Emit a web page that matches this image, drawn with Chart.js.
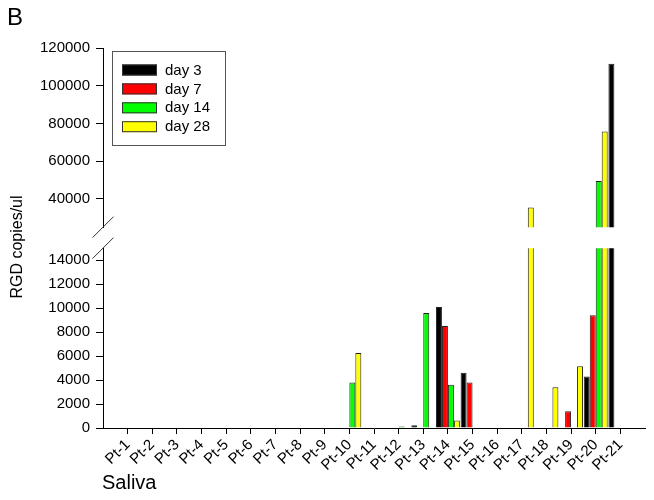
<!DOCTYPE html>
<html>
<head>
<meta charset="utf-8">
<script src="https://cdn.jsdelivr.net/npm/chart.js@4.4.1/dist/chart.umd.min.js"></script>
<style>
html,body{margin:0;padding:0;background:#fff;}
#wrap{width:654px;height:500px;}
</style>
</head>
<body>
<div id="wrap"><canvas id="c" width="654" height="500"></canvas></div>
<script>
// ---- data ----
const categories = ['Pt-1','Pt-2','Pt-3','Pt-4','Pt-5','Pt-6','Pt-7','Pt-8','Pt-9','Pt-10','Pt-11',
                    'Pt-12','Pt-13','Pt-14','Pt-15','Pt-16','Pt-17','Pt-18','Pt-19','Pt-20','Pt-21'];
const seriesNames = ['day 3','day 7','day 14','day 28'];
const seriesColors = ['#000000','#ff0000','#00ff00','#ffff00'];
const day3  = [0,0,0,0,0,0,0,0,0,0,0,0,220,10100,4600,0,0,0,0,4300,111700];
const day7  = [0,0,0,0,0,0,0,0,0,0,0,0,0,8500,3800,0,0,0,1400,9400,0];
const day14 = [0,0,0,0,0,0,0,0,0,3800,0,120,9600,3600,0,0,0,0,0,49500,0];
const day28 = [0,0,0,0,0,0,0,0,0,6250,0,0,0,620,0,0,35400,3400,5150,75700,0];
const lowerTicks = [0,2000,4000,6000,8000,10000,12000,14000];
const upperTicks = [40000,60000,80000,100000,120000];
const lowerRange = [0,15000];
const upperRange = [25000,120000];

const allSeries = [day3, day7, day14, day28];
const FONT = "'Liberation Sans', Arial, Helvetica, sans-serif";
Chart.defaults.font.family = FONT;
Chart.defaults.font.size = 15;
Chart.defaults.color = '#000';

const datasets = [];
['yLow','yHigh'].forEach(axisId => {
  allSeries.forEach((vals, s) => {
    datasets.push({
      label: seriesNames[s],
      data: vals.map((v, i) => ({x: i + 1, y: v})),
      yAxisID: axisId,
      xAxisID: 'x',
      stack: 's' + s,
      clip: 0,
      backgroundColor: seriesColors[s],
      borderColor: '#222',
      borderWidth: 1,
      borderSkipped: 'start',
      categoryPercentage: 0.97,
      barPercentage: 1.0
    });
  });
});

const Y_AXIS_W = 63;
const tickFont = { family: FONT, size: 15 };
const commonY = (ticksArr) => ({
  type: 'linear',
  position: 'left',
  stack: 'y',
  stacked: false,
  afterBuildTicks: (axis) => { axis.ticks = ticksArr.map(v => ({value: v})); },
  afterFit: (axis) => { axis.width = Y_AXIS_W; },
  ticks: { autoSkip: false, font: tickFont, color: '#000', padding: 6, callback: (v) => String(v) },
  grid: { drawOnChartArea: false, tickLength: 7, color: '#000', tickColor: '#000', lineWidth: 1 },
  border: { display: true, color: '#000', width: 1 }
});

const decorations = {
  id: 'decorations',
  afterDraw(chart) {
    const ctx = chart.ctx;
    const ca = chart.chartArea;
    const yH = chart.scales.yHigh, yL = chart.scales.yLow;
    ctx.save();
    // axis break marks
    ctx.strokeStyle = '#333';
    ctx.lineWidth = 1;
    [yH.bottom, yL.top].forEach(yy => {
      ctx.beginPath();
      ctx.moveTo(ca.left - 10.5, yy + 10.5);
      ctx.lineTo(ca.left + 10.5, yy - 10.5);
      ctx.stroke();
    });
    // legend
    const lx = ca.left + 9, ly = ca.top + 3;
    ctx.fillStyle = '#fff';
    ctx.fillRect(lx, ly, 113, 94);
    ctx.strokeStyle = '#555';
    ctx.strokeRect(lx + 0.5, ly + 0.5, 113, 94);
    ctx.font = '15px ' + FONT;
    ctx.textBaseline = 'middle';
    ctx.textAlign = 'left';
    for (let i = 0; i < 4; i++) {
      const ds = chart.data.datasets[i];
      const sy = ly + 13.5 + i * 18.9;
      ctx.fillStyle = ds.backgroundColor;
      ctx.fillRect(lx + 10, sy, 35, 11);
      ctx.strokeStyle = '#333';
      ctx.strokeRect(lx + 10.5, sy + 0.5, 34, 10);
      ctx.fillStyle = '#000';
      ctx.fillText(ds.label, lx + 53, sy + 6);
    }
    // panel letter
    ctx.font = '24px ' + FONT;
    ctx.textBaseline = 'alphabetic';
    ctx.fillText('B', 7, 25);
    // x title
    ctx.font = '20px ' + FONT;
    ctx.fillText('Saliva', ca.left - 1, 489);
    // y title
    ctx.translate(18, 247);
    ctx.rotate(-Math.PI / 2);
    ctx.font = '16px ' + FONT;
    ctx.textAlign = 'center';
    ctx.textBaseline = 'middle';
    ctx.fillText('RGD copies/ul', 0, 0);
    ctx.restore();
  }
};

new Chart(document.getElementById('c'), {
  type: 'bar',
  data: { datasets },
  options: {
    responsive: false,
    animation: false,
    devicePixelRatio: 1,
    layout: { padding: { top: 48, left: 40, right: 9, bottom: 24 } },
    plugins: { legend: { display: false }, title: { display: false }, tooltip: { enabled: false } },
    scales: {
      x: {
        type: 'linear',
        min: 0, max: categories.length + 1,
        stacked: true,
        offset: false,
        afterBuildTicks: (axis) => { axis.ticks = categories.map((c, i) => ({value: i + 1})); },
        afterFit: (axis) => { axis.height = 48; },
        ticks: { autoSkip: false, maxRotation: 45, minRotation: 45, font: tickFont, color: '#000',
                 padding: 2, callback: (v) => categories[v - 1] },
        grid: { drawOnChartArea: false, offset: false, tickLength: 6, color: '#000', tickColor: '#000' },
        border: { color: '#000', width: 1 }
      },
      yLow: Object.assign(commonY(lowerTicks), { min: lowerRange[0], max: lowerRange[1], stackWeight: 180 }),
      yGap: {
        type: 'linear', position: 'left', stack: 'y', stackWeight: 21,
        afterFit: (axis) => { axis.width = Y_AXIS_W; },
        ticks: { display: false }, grid: { display: false }, border: { display: false }
      },
      yHigh: Object.assign(commonY(upperTicks), { min: upperRange[0], max: upperRange[1], stackWeight: 179.3 })
    }
  },
  plugins: [decorations]
});
</script>
</body>
</html>
